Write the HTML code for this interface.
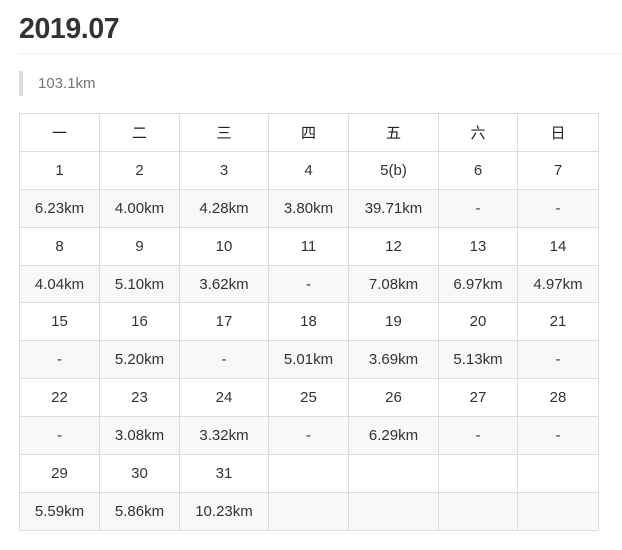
<!DOCTYPE html>
<html><head><meta charset="utf-8"><style>
body{margin:0;width:622px;height:550px;background:#fff;font-family:"Liberation Sans","Noto Sans CJK SC",sans-serif;color:#333;overflow:hidden}
h2{position:absolute;left:19px;top:11px;margin:0;font-size:28.5px;font-weight:bold;line-height:36px;letter-spacing:-0.4px}
.hr{position:absolute;left:19px;top:53px;width:603px;height:1px;background:#eee}
.bq{position:absolute;left:19px;top:71px;height:25px;border-left:4px solid #ddd;padding-left:15px;font-size:15px;line-height:25px;color:#777}
table{position:absolute;left:19px;top:113px;border-collapse:collapse;font-size:15px}
td,th{border:1px solid #ddd;text-align:center;height:36.9px;padding:0}
th{font-weight:normal;color:#222}
tr.km td{background:#f8f8f8}
</style></head><body>
<h2>2019.07</h2>
<div class="hr"></div>
<div class="bq">103.1km</div>
<table>
<colgroup><col style="width:80px"><col style="width:80px"><col style="width:89px"><col style="width:80px"><col style="width:90px"><col style="width:79px"><col style="width:81px"></colgroup>
<tr><th>一</th><th>二</th><th>三</th><th>四</th><th>五</th><th>六</th><th>日</th></tr>
<tr><td>1</td><td>2</td><td>3</td><td>4</td><td>5(b)</td><td>6</td><td>7</td></tr>
<tr class="km"><td>6.23km</td><td>4.00km</td><td>4.28km</td><td>3.80km</td><td>39.71km</td><td>-</td><td>-</td></tr>
<tr><td>8</td><td>9</td><td>10</td><td>11</td><td>12</td><td>13</td><td>14</td></tr>
<tr class="km"><td>4.04km</td><td>5.10km</td><td>3.62km</td><td>-</td><td>7.08km</td><td>6.97km</td><td>4.97km</td></tr>
<tr><td>15</td><td>16</td><td>17</td><td>18</td><td>19</td><td>20</td><td>21</td></tr>
<tr class="km"><td>-</td><td>5.20km</td><td>-</td><td>5.01km</td><td>3.69km</td><td>5.13km</td><td>-</td></tr>
<tr><td>22</td><td>23</td><td>24</td><td>25</td><td>26</td><td>27</td><td>28</td></tr>
<tr class="km"><td>-</td><td>3.08km</td><td>3.32km</td><td>-</td><td>6.29km</td><td>-</td><td>-</td></tr>
<tr><td>29</td><td>30</td><td>31</td><td></td><td></td><td></td><td></td></tr>
<tr class="km"><td>5.59km</td><td>5.86km</td><td>10.23km</td><td></td><td></td><td></td><td></td></tr>
</table>
</body></html>
